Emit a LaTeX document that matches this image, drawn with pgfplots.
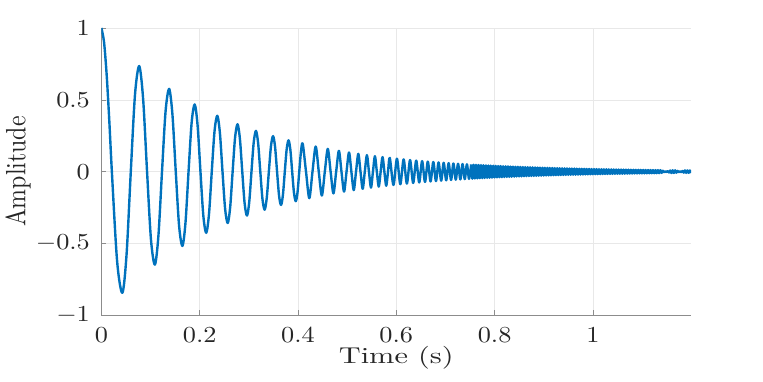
\documentclass[border=0pt]{standalone}
\usepackage{pgfplots}
\pgfplotsset{compat=1.18}
\definecolor{mblue}{rgb}{0,0.447,0.741}
\definecolor{axgray}{rgb}{0.15,0.15,0.15}
\pgfplotstableread{
t y
0.7523 0.04933
0.7548 -0.04884
0.7573 0.04835
0.7598 -0.04787
0.7623 0.04739
0.7648 -0.04692
0.7673 0.04645
0.7698 -0.04599
0.7723 0.04553
0.7748 -0.04508
0.7773 0.04463
0.7798 -0.04419
0.7823 0.04375
0.7848 -0.04331
0.7873 0.04288
0.7898 -0.04245
0.7923 0.04203
0.7948 -0.04161
0.7973 0.04120
0.7998 -0.04079
0.8023 0.04038
0.8048 -0.03998
0.8073 0.03958
0.8098 -0.03919
0.8123 0.03880
0.8148 -0.03841
0.8173 0.03803
0.8198 -0.03765
0.8223 0.03728
0.8248 -0.03691
0.8273 0.03654
0.8298 -0.03618
0.8323 0.03582
0.8348 -0.03546
0.8373 0.03511
0.8398 -0.03476
0.8423 0.03441
0.8448 -0.03407
0.8473 0.03373
0.8498 -0.03339
0.8523 0.03306
0.8548 -0.03273
0.8573 0.03241
0.8598 -0.03209
0.8623 0.03177
0.8648 -0.03145
0.8673 0.03114
0.8698 -0.03083
0.8723 0.03052
0.8748 -0.03022
0.8773 0.02992
0.8798 -0.02962
0.8823 0.02932
0.8848 -0.02903
0.8873 0.02874
0.8898 -0.02845
0.8923 0.02817
0.8948 -0.02789
0.8973 0.02762
0.8998 -0.02734
0.9023 0.02707
0.9048 -0.02680
0.9073 0.02653
0.9098 -0.02627
0.9123 0.02601
0.9148 -0.02575
0.9173 0.02549
0.9198 -0.02524
0.9223 0.02499
0.9248 -0.02474
0.9273 0.02449
0.9298 -0.02425
0.9323 0.02401
0.9348 -0.02377
0.9373 0.02353
0.9398 -0.02330
0.9423 0.02307
0.9448 -0.02284
0.9473 0.02261
0.9498 -0.02238
0.9523 0.02216
0.9548 -0.02194
0.9573 0.02172
0.9598 -0.02150
0.9623 0.02129
0.9648 -0.02108
0.9673 0.02087
0.9698 -0.02066
0.9723 0.02046
0.9748 -0.02026
0.9773 0.02005
0.9798 -0.01985
0.9823 0.01966
0.9848 -0.01946
0.9873 0.01927
0.9898 -0.01908
0.9923 0.01889
0.9948 -0.01870
0.9973 0.01851
0.9998 -0.01833
1.0023 0.01815
1.0048 -0.01797
1.0073 0.01779
1.0098 -0.01761
1.0123 0.01743
1.0148 -0.01726
1.0173 0.01709
1.0198 -0.01692
1.0223 0.01675
1.0248 -0.01658
1.0273 0.01642
1.0298 -0.01626
1.0323 0.01609
1.0348 -0.01593
1.0373 0.01578
1.0398 -0.01562
1.0423 0.01546
1.0448 -0.01531
1.0473 0.01516
1.0498 -0.01501
1.0523 0.01486
1.0548 -0.01471
1.0573 0.01456
1.0598 -0.01442
1.0623 0.01427
1.0648 -0.01413
1.0673 0.01399
1.0698 -0.01385
1.0723 0.01372
1.0748 -0.01358
1.0773 0.01344
1.0798 -0.01331
1.0823 0.01318
1.0848 -0.01305
1.0873 0.01292
1.0898 -0.01279
1.0923 0.01266
1.0948 -0.01253
1.0973 0.01241
1.0998 -0.01229
1.1023 0.01216
1.1048 -0.01204
1.1073 0.01192
1.1098 -0.01180
1.1123 0.01169
1.1148 -0.01157
1.1173 0.01146
1.1198 -0.01134
1.1223 0.01123
1.1248 -0.01112
1.1273 0.01101
1.1298 -0.01090
1.1323 0.01079
1.1348 -0.01068
1.1373 0.01058
1.1398 -0.00838
1.1423 0.00622
1.1448 -0.00411
1.1473 0.00254
1.1498 -0.00252
1.1523 0.00398
1.1548 -0.00592
1.1573 0.00781
1.1598 -0.00967
1.1623 0.00957
1.1648 -0.00947
1.1673 0.00938
1.1698 -0.00743
1.1723 0.00505
1.1748 -0.00319
1.1773 0.00180
1.1798 -0.00312
1.1823 0.00486
1.1848 -0.00700
1.1873 0.00866
1.1898 -0.00857
1.1923 0.00849
1.1948 -0.00840
1.1973 0.00832
1.1998 -0.00824
}\bandtail
\begin{document}
\begin{tikzpicture}
\begin{axis}[
  name=ax,
  scale only axis, width=589.8bp, height=287.3bp,
  xmin=0, xmax=1.2, ymin=-1, ymax=1,
  axis x line*=bottom, axis y line*=left,
  axis line style={draw=black!45, line width=0.6pt},
  xtick={0,0.2,0.4,0.6,0.8,1}, ytick={-1,-0.5,0,0.5,1},
  tick align=inside, major tick length=5bp,
  tick style={draw=black!45, line width=0.6pt},
  grid=major, major grid style={draw=black!9, line width=0.6pt},
  ticklabel style={font=\fontsize{10}{12}\selectfont, text=axgray},
  xticklabel style={anchor=north, inner sep=0pt, yshift=-12bp, xscale=2.64, yscale=2.3},
  yticklabel style={anchor=east, inner sep=0pt, xshift=-11bp, xscale=2.64, yscale=2.3},
  xlabel={Time (s)}, ylabel={Amplitude},
  label style={font=\fontsize{10}{12}\selectfont, text=axgray, inner sep=0pt},
  xlabel style={at={(axis description cs:0.5,-0.1695)}, anchor=base, xscale=3.05, yscale=2.3},
  ylabel style={at={(axis description cs:-0.129,0.5)}, anchor=base, xscale=2.39, yscale=2.8},
]
\addplot[draw=mblue, line width=2.4pt, line join=round, smooth] table {
t y
0 1
0.0053 0.904
0.01065 0.6776
0.0160 0.359
0.0213 0
0.03195 -0.6222
0.0426 -0.8433
0.0512 -0.5761
0.0598 0
0.0684 0.5378
0.0770 0.7349
0.08495 0.5034
0.0929 0
0.10085 -0.4723
0.1088 -0.6471
0.11605 -0.4445
0.1233 0
0.13055 0.4195
0.1378 0.5763
0.14455 0.3966
0.1513 0
0.15805 -0.3758
0.1648 -0.5173
0.17105 -0.3567
0.1773 0
0.18355 0.3393
0.1898 0.4680
0.19568 0.3233
0.20155 0
0.20743 -0.3084
0.2133 -0.4261
0.21893 -0.2946
0.22455 0
0.23018 0.2816
0.2358 0.3894
0.2411 0.2696
0.2464 0
0.2517 -0.2584
0.2570 -0.3577
0.2620 -0.2479
0.2670 0
0.2720 0.2382
0.2770 0.3302
0.2818 0.2290
0.2866 0
0.2914 -0.2204
0.2962 -0.3058
0.30078 -0.2123
0.30535 0
0.30993 0.2047
0.3145 0.2842
0.3189 0.1975
0.3233 0
0.3277 -0.1906
0.3321 -0.2649
0.3364 -0.1841
0.3407 0
0.3450 0.1779
0.3493 0.2473
0.35335 0.1720
0.3574 0
0.36145 -0.1666
0.3655 -0.2318
0.36933 -0.1614
0.37315 0
0.37698 0.1566
0.3808 0.2180
0.38448 0.1519
0.38815 0
0.39183 -0.1475
0.3955 -0.2056
0.39903 -0.1433
0.40255 0
0.40608 0.1394
0.4096 0.1943
0.4163 0
0.4230 -0.1842
0.4295 0
0.4360 0.1748
0.44225 0
0.4485 -0.1663
0.45455 0
0.4606 0.1584
0.46635 0
0.4721 -0.1513
0.47765 0
0.4832 0.1447
0.48845 0
0.4937 -0.1388
0.49875 0
0.5038 0.1333
0.5086 0
0.5134 -0.1283
0.51805 0
0.5227 0.1236
0.52715 0
0.5316 -0.1193
0.5359 0
0.5402 0.1152
0.54435 0
0.5485 -0.1115
0.5525 0
0.5565 0.1079
0.5604 0
0.5643 -0.1046
0.56815 0
0.5720 0.1015
0.57575 0
0.5795 -0.0985
0.58315 0
0.5868 0.0956
0.5942 -0.0929
0.6013 0.0902
0.6082 -0.0878
0.6149 0.0855
0.6215 -0.0832
0.6280 0.0811
0.6343 -0.0791
0.6405 0.0771
0.6466 -0.0753
0.6525 0.0735
0.6584 -0.0718
0.6641 0.0702
0.6697 -0.0686
0.6753 0.0671
0.6807 -0.0657
0.6860 0.0643
0.6913 -0.0630
0.6964 0.0617
0.7015 -0.0604
0.7065 0.0592
0.7114 -0.0581
0.7162 0.0570
0.7210 -0.0559
0.7256 0.0549
0.7303 -0.0539
0.7348 0.0529
0.7393 -0.0520
0.7437 0.0511
0.7480 -0.0502
0.7523 0.0493
};
\addplot[draw=mblue, line width=2.4pt, line join=round] table {\bandtail};
\end{axis}
\path (ax.south west) ++(-101.4bp,-66.7bp) rectangle ++(763bp,382bp);
\end{tikzpicture}
\end{document}
